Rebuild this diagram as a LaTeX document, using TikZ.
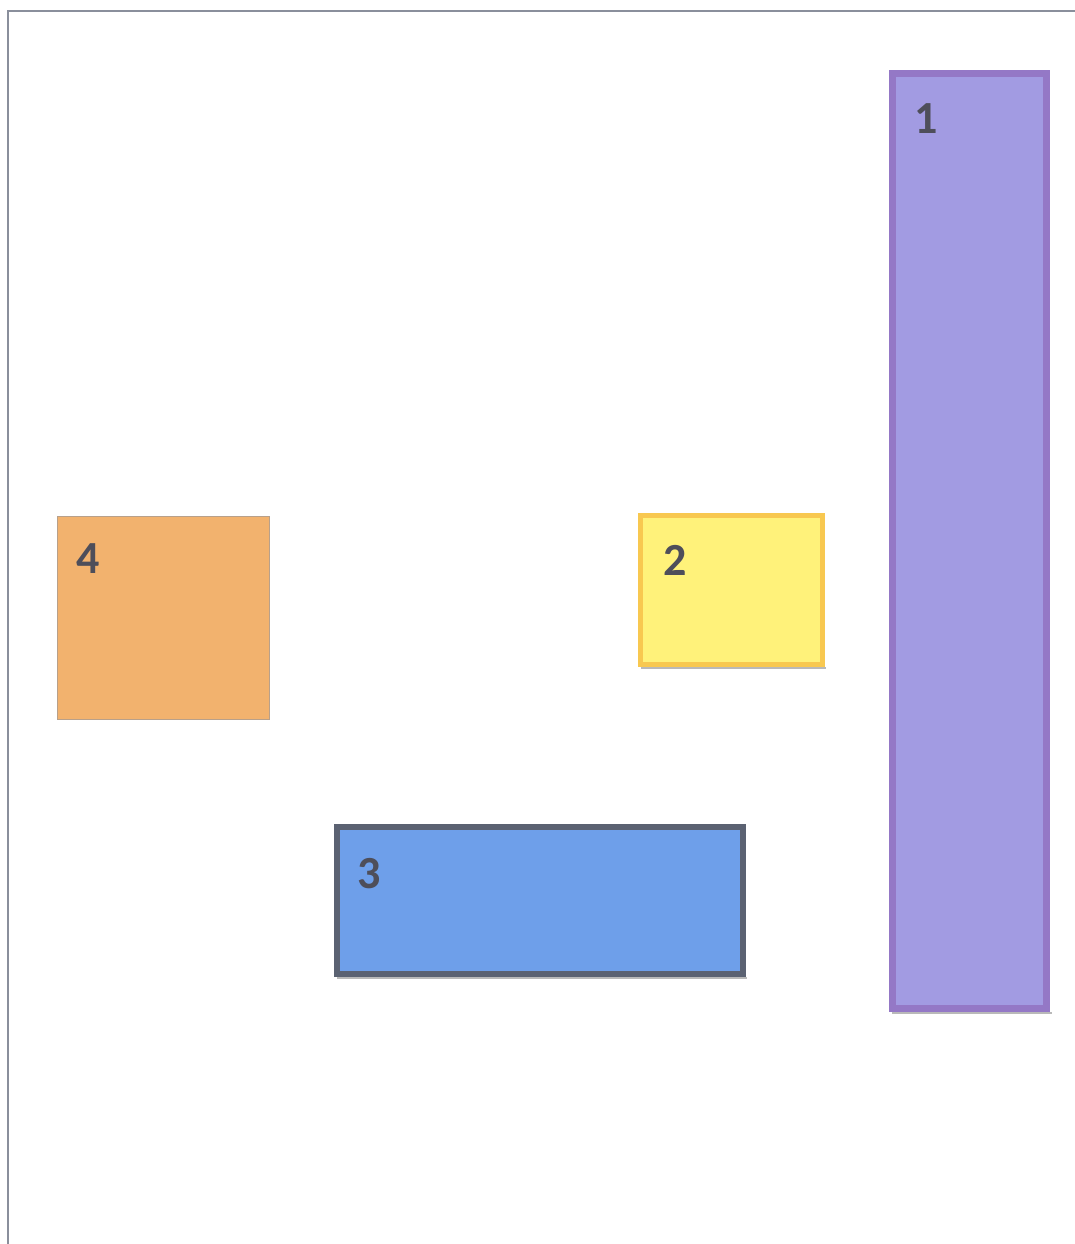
\documentclass[tikz,border=0pt]{standalone}
\usepackage{fontspec}
\setmainfont{Carlito}
\definecolor{frame}{HTML}{8A8F9C}
\definecolor{purplefill}{HTML}{A29BE2}
\definecolor{purpleline}{HTML}{9478C6}
\definecolor{yellowfill}{HTML}{FFF27A}
\definecolor{yellowline}{HTML}{F8C850}
\definecolor{bluefill}{HTML}{6E9FEA}
\definecolor{blueline}{HTML}{5B6272}
\definecolor{orangefill}{HTML}{F2B26E}
\definecolor{orangeline}{HTML}{B8A08A}
\definecolor{labelgray}{HTML}{4E4E5A}
\tikzset{
  blockbox/.style={rectangle, inner sep=0pt, anchor=north west},
  numlabel/.style={font=\bfseries\fontsize{46}{46}\selectfont, text=labelgray, anchor=base west, inner sep=0pt},
  shadowline/.style={draw=gray!55, line width=1.5pt}
}
\begin{document}
\begin{tikzpicture}[x=1pt,y=-1pt]
\useasboundingbox (0,0) rectangle (1075,1244);
\fill[white] (0,0) rectangle (1075,1244);
% page frame
\coordinate (ftr) at (1075,11);
\coordinate (ftl) at (8,11);
\coordinate (fbl) at (8,1244);
\draw[frame, line width=1.5pt] (ftr) -- (ftl) -- (fbl);
% box 1
\draw[shadowline] (892,1013.2) -- (1052,1013.2);
\node[blockbox, fill=purplefill, draw=purpleline, line width=7pt,
      minimum width=154pt, minimum height=935pt] (b1) at (889,70) {};
\node[numlabel] (l1) at (914,133) {1};
% box 2
\draw[shadowline] (641,668.2) -- (826,668.2);
\node[blockbox, fill=yellowfill, draw=yellowline, line width=5pt,
      minimum width=182pt, minimum height=149pt] (b2) at (638,513) {};
\node[numlabel] (l2) at (663,575) {2};
% box 3
\draw[shadowline] (337,978.2) -- (747,978.2);
\node[blockbox, fill=bluefill, draw=blueline, line width=6pt,
      minimum width=406pt, minimum height=147pt] (b3) at (334,824) {};
\node[numlabel] (l3) at (357,888) {3};
% box 4
\node[blockbox, fill=orangefill, draw=orangeline, line width=1pt,
      minimum width=212pt, minimum height=203pt] (b4) at (57,516) {};
\node[numlabel] (l4) at (76,573) {4};
\end{tikzpicture}
\end{document}
